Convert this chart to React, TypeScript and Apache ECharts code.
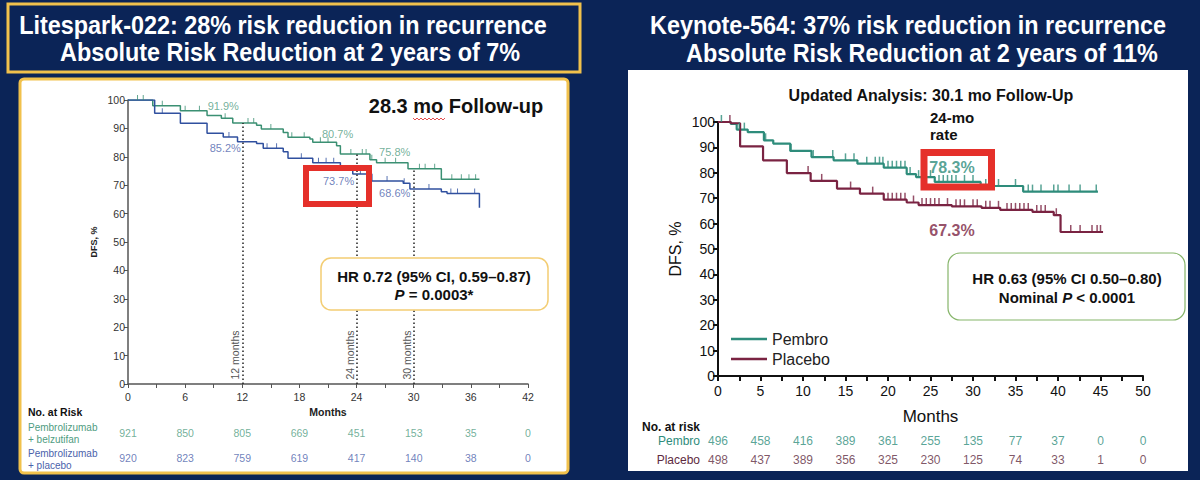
import React, { useEffect, useRef } from "react";
import * as echarts from "echarts";

const FONT = "'Liberation Sans', Arial, Helvetica, sans-serif";

// ---------- Litespark-022 (left) ----------
const BELZ_MONTHS = [0, 2.6, 5.5, 8.3, 9.8, 11, 13.5, 14, 16.3, 16.8, 19.1, 19.4, 21.9, 22.3, 25.4, 26.1, 29.4, 32.9, 36.9];
const BELZ_DFS = [100, 98.0, 96.2, 94.5, 93.6, 91.9, 91.1, 89.8, 88.6, 86.9, 86.3, 85.1, 83.9, 81.0, 79.0, 77.9, 75.8, 72.1, 72.1];
const PLAC1_MONTHS = [0, 2.8, 5.5, 8.3, 10, 11.5, 13.5, 14.2, 16.3, 16.8, 19.4, 22.3, 23.6, 25.6, 28.9, 29.6, 32.9, 33.5, 36.9];
const PLAC1_DFS = [100, 95.3, 91.8, 88.3, 87.0, 85.3, 84.7, 83.0, 81.8, 79.5, 77.9, 75.4, 73.9, 71.5, 70.7, 68.7, 67.7, 67.1, 62.1];
const BELZ_CENSOR = [1, 1.6, 3.6, 6, 7.5, 10.2, 12.6, 13.2, 15, 17.2, 18.5, 20.2, 21, 23.4, 24.6, 25, 25.6, 27, 28.1, 30.6, 31.2, 32.2, 34, 35, 35.8, 36.5];
const PLAC1_CENSOR = [3.6, 10.6, 14.6, 15.6, 18.2, 20, 20.8, 21.6, 24.4, 27.2, 29, 31.6, 33.9, 34.6, 36.4];
const LEFT_LANDMARKS = [12, 24, 30];
const BELZ_RATES = [91.9, 80.7, 75.8];
const PLAC1_RATES = [85.2, 73.7, 68.6];
const LEFT_RISK_MONTHS = [0, 6, 12, 18, 24, 30, 36, 42];
const BELZ_RISK = [921, 850, 805, 669, 451, 153, 35, 0];
const PLAC1_RISK = [920, 823, 759, 619, 417, 140, 38, 0];

// ---------- Keynote-564 (right) ----------
const PEMBRO_MONTHS = [0, 1.5, 2.2, 3.5, 5.4, 6.5, 8.5, 11, 13.6, 16.4, 19.5, 22.2, 23.3, 25.5, 30.9, 35.9, 44.7];
const PEMBRO_DFS = [100, 99.3, 97.0, 96.0, 92.8, 91.5, 88.6, 86.2, 84.9, 83.6, 82.0, 79.5, 78.3, 76.4, 74.8, 72.6, 72.6];
const PLACEBO_MONTHS = [0, 1.5, 2.6, 5.3, 8.1, 10.9, 14, 16.7, 19.5, 22.2, 23.6, 27.5, 31, 33.2, 37, 39.5, 40.3, 45.3];
const PLACEBO_DFS = [100, 99.5, 90.4, 84.9, 79.9, 76.8, 73.8, 71.8, 69.4, 68.3, 67.3, 66.8, 66.2, 65.4, 64.6, 63.3, 56.7, 56.7];
const PEMBRO_CENSOR = [0.4, 2.5, 3.1, 5.6, 8.6, 11.2, 13.5, 15, 16, 17.5, 18.5, 19, 19.4, 20, 20.5, 21, 21.5, 22, 22.6, 23.6, 24.5, 25, 26, 26.5, 27, 27.5, 28, 29, 30, 31.5, 32, 32.5, 33, 35, 36.5, 37, 38, 39.5, 40, 41.3, 42.6, 44.5];
const PLACEBO_CENSOR = [1.4, 10.6, 12.2, 15.6, 18.2, 20, 20.5, 21, 21.5, 22, 23, 24, 24.5, 25, 25.5, 26, 27, 28, 28.5, 29, 30, 30.5, 31.5, 32, 33, 34, 34.5, 35, 35.5, 36, 36.5, 37.5, 38, 38.5, 39.8, 41.5, 42.6, 44, 44.6, 45];
const RIGHT_RATE_MONTH = 24;
const PEMBRO_RATE = 78.3;
const PLACEBO_RATE = 67.3;
const RIGHT_RISK_MONTHS = [0, 5, 10, 15, 20, 25, 30, 35, 40, 45, 50];
const PEMBRO_RISK = [496, 458, 416, 389, 361, 255, 135, 77, 37, 0, 0];
const PLACEBO_RISK = [498, 437, 389, 356, 325, 230, 125, 74, 33, 1, 0];

const NAVY = "#0b2457";
const GOLD = "#f1c14c";
const GREEN = "#3b9073";
const GREEN_TXT = "#4f9c81";
const BLUE = "#30509f";
const BLUE_TXT = "#4b62ab";
const TEAL = "#2e8c7b";
const MAROON = "#7a2342";
const RED = "#e5302a";

function stepAt(months: number[], vals: number[], t: number): number {
  let v = vals[0];
  for (let i = 0; i < months.length; i++) if (months[i] <= t) v = vals[i];
  return v;
}
const pairs = (m: number[], v: number[]) => m.map((x, i) => [x, v[i]]);
const censorPts = (c: number[], m: number[], v: number[]) => c.map((t) => [t, stepAt(m, v, t)]);

export default function App() {
  const ref = useRef<HTMLDivElement>(null);
  useEffect(() => {
    document.body.style.margin = "0";
    const chart = echarts.init(ref.current!, undefined, { renderer: "svg" });

    const stepLine = (name: string, data: number[][], color: string, xi: number, width: number, extra: any = {}) => ({
      type: "line", name, xAxisIndex: xi, yAxisIndex: xi, data, step: "end", showSymbol: false, symbol: "none",
      lineStyle: { color, width }, itemStyle: { color }, z: 3, ...extra,
    });
    const censor = (data: number[][], color: string, xi: number, size: number[]) => ({
      type: "scatter", xAxisIndex: xi, yAxisIndex: xi, data, symbol: "rect", symbolSize: size,
      symbolOffset: [0, "-50%"], itemStyle: { color }, z: 4, silent: true,
    });
    const riskRow = (months: number[], counts: number[], row: number, xi: number, color: string, fs: number) => ({
      type: "scatter", xAxisIndex: xi, yAxisIndex: xi, symbol: "circle", symbolSize: 1,
      itemStyle: { color: "rgba(0,0,0,0)" }, silent: true,
      data: months.map((m, i) => [m, row, counts[i]]),
      label: { show: true, position: "inside", formatter: (p: any) => String(p.value[2]), color, fontSize: fs, fontFamily: FONT },
    });

    const leftLabelOffsets = [[-19, -17], [-19, -21], [-19, -17]];
    const leftLabelOffsetsB = [[-17, 6], [-18, 6], [-19, 4]];
    const leftLabels: any[] = [];
    LEFT_LANDMARKS.forEach((m, i) => {
      leftLabels.push({ value: [m, BELZ_RATES[i]], label: { formatter: BELZ_RATES[i].toFixed(1) + "%", offset: leftLabelOffsets[i], color: GREEN_TXT } });
      leftLabels.push({ value: [m, PLAC1_RATES[i]], label: { formatter: PLAC1_RATES[i].toFixed(1) + "%", offset: leftLabelOffsetsB[i], color: BLUE_TXT } });
    });

    const axisTextL = { color: "#333", fontSize: 10.5, fontFamily: FONT };
    const axisTextR = { color: "#111", fontSize: 14, fontFamily: FONT };

    chart.setOption({
      animation: false,
      backgroundColor: NAVY,
      textStyle: { fontFamily: FONT },
      grid: [
        { left: 128, top: 100, width: 400, height: 284 },
        { left: 718, top: 122, width: 425, height: 254 },
        { left: 128, top: 420, width: 400, height: 50 },
        { left: 718, top: 431, width: 425, height: 38 },
      ],
      legend: {
        data: ["Pembro", "Placebo"], orient: "vertical", left: 731, top: 331, icon: "rect",
        itemWidth: 36, itemHeight: 2.5, itemGap: 4, padding: 0, selectedMode: false,
        textStyle: { fontSize: 16, color: "#222", fontFamily: FONT },
      },
      xAxis: [
        {
          gridIndex: 0, type: "value", min: 0, max: 42, interval: 6,
          axisLine: { lineStyle: { color: "#555", width: 1.5 } },
          axisTick: { show: true, length: 4, lineStyle: { color: "#555" } },
          minorTick: { show: true, splitNumber: 2, length: 4, lineStyle: { color: "#555" } },
          splitLine: { show: false }, axisLabel: { ...axisTextL, margin: 7 },
          name: "Months", nameLocation: "middle", nameGap: 22,
          nameTextStyle: { fontWeight: "bold", fontSize: 10.5, color: "#222", fontFamily: FONT },
        },
        {
          gridIndex: 1, type: "value", min: 0, max: 50, interval: 5,
          axisLine: { lineStyle: { color: "#111", width: 2 } },
          axisTick: { show: true, length: 5, lineStyle: { color: "#111", width: 2 } },
          minorTick: { show: true, splitNumber: 2, length: 5, lineStyle: { color: "#111", width: 2 } },
          splitLine: { show: false }, axisLabel: { ...axisTextR, margin: 8 },
          name: "Months", nameLocation: "middle", nameGap: 32,
          nameTextStyle: { fontSize: 17, color: "#111", fontFamily: FONT },
        },
        { gridIndex: 2, type: "value", min: 0, max: 42, show: false },
        { gridIndex: 3, type: "value", min: 0, max: 50, show: false },
      ],
      yAxis: [
        {
          gridIndex: 0, type: "value", min: 0, max: 100, interval: 10,
          axisLine: { show: true, lineStyle: { color: "#555", width: 1.5 } },
          axisTick: { show: true, length: 4, lineStyle: { color: "#555" } },
          splitLine: { show: false }, axisLabel: { ...axisTextL, margin: 3 },
          name: "DFS, %", nameLocation: "middle", nameGap: 30,
          nameTextStyle: { fontWeight: "bold", fontSize: 9, color: "#222", fontFamily: FONT },
        },
        {
          gridIndex: 1, type: "value", min: 0, max: 100, interval: 10,
          axisLine: { show: true, lineStyle: { color: "#111", width: 2 } },
          axisTick: { show: true, length: 5, lineStyle: { color: "#111", width: 2 } },
          splitLine: { show: false }, axisLabel: { ...axisTextR, margin: 3 },
          name: "DFS, %", nameLocation: "middle", nameGap: 35,
          nameTextStyle: { fontSize: 16, color: "#111", fontFamily: FONT },
        },
        { gridIndex: 2, type: "value", min: -0.5, max: 1.5, inverse: true, show: false },
        { gridIndex: 3, type: "value", min: -0.5, max: 1.5, inverse: true, show: false },
      ],
      series: [
        stepLine("Pembrolizumab + belzutifan", pairs(BELZ_MONTHS, BELZ_DFS), GREEN, 0, 1.5, {
          markLine: {
            symbol: "none", silent: true, label: { show: false },
            lineStyle: { type: [1.5, 2.5], color: "#222", width: 1.5 },
            data: LEFT_LANDMARKS.map((m) => [{ coord: [m, 0] }, { coord: [m, stepAt(BELZ_MONTHS, BELZ_DFS, m)] }]),
          },
        }),
        stepLine("Pembrolizumab + placebo", pairs(PLAC1_MONTHS, PLAC1_DFS), BLUE, 0, 1.5),
        censor(censorPts(BELZ_CENSOR, BELZ_MONTHS, BELZ_DFS), GREEN, 0, [1, 5]),
        censor(censorPts(PLAC1_CENSOR, PLAC1_MONTHS, PLAC1_DFS), BLUE, 0, [1, 5]),
        {
          type: "scatter", xAxisIndex: 0, yAxisIndex: 0, symbolSize: 1, itemStyle: { color: "rgba(0,0,0,0)" }, silent: true,
          data: leftLabels, z: 6,
          label: { show: true, position: "inside", fontSize: 11, fontFamily: FONT },
        },
        stepLine("Pembro", pairs(PEMBRO_MONTHS, PEMBRO_DFS), TEAL, 1, 2.2),
        stepLine("Placebo", pairs(PLACEBO_MONTHS, PLACEBO_DFS), MAROON, 1, 2.2),
        censor(censorPts(PEMBRO_CENSOR, PEMBRO_MONTHS, PEMBRO_DFS), TEAL, 1, [1.5, 7]),
        censor(censorPts(PLACEBO_CENSOR, PLACEBO_MONTHS, PLACEBO_DFS), MAROON, 1, [1.5, 7]),
        {
          type: "scatter", xAxisIndex: 1, yAxisIndex: 1, symbolSize: 1, itemStyle: { color: "rgba(0,0,0,0)" }, silent: true, z: 6,
          data: [
            { value: [RIGHT_RATE_MONTH, PEMBRO_RATE], label: { formatter: PEMBRO_RATE.toFixed(1) + "%", offset: [30, -10], color: TEAL } },
            { value: [RIGHT_RATE_MONTH, PLACEBO_RATE], label: { formatter: PLACEBO_RATE.toFixed(1) + "%", offset: [30, 25], color: MAROON } },
          ],
          label: { show: true, position: "inside", fontSize: 16, fontWeight: "bold", fontFamily: FONT },
        },
        riskRow(LEFT_RISK_MONTHS, BELZ_RISK, 0, 2, GREEN_TXT, 10.5),
        riskRow(LEFT_RISK_MONTHS, PLAC1_RISK, 1, 2, BLUE_TXT, 10.5),
        riskRow(RIGHT_RISK_MONTHS, PEMBRO_RISK, 0, 3, TEAL, 12),
        riskRow(RIGHT_RISK_MONTHS, PLACEBO_RISK, 1, 3, "#5e2a3e", 12),
      ],
    });

    const px = (grid: number, p: number[]) => chart.convertToPixel({ xAxisIndex: grid, yAxisIndex: grid }, p) as number[];

    const landmarkTexts = LEFT_LANDMARKS.map((m) => {
      const p = px(0, [m, 0]);
      return {
        type: "text", x: p[0] - 7, y: p[1] - 29, rotation: Math.PI / 2, z: 20,
        style: { text: m + " months", fill: "#555", fontSize: 10.5, fontFamily: FONT, align: "center", verticalAlign: "middle" },
      };
    });

    const txt = (text: string, x: number, y: number, o: any = {}, el: any = {}) => ({
      type: "text", x, y, z: 20, ...el,
      style: { text, fontFamily: FONT, align: "center", verticalAlign: "middle", fill: "#111", ...o },
    });

    const elements: any[] = [
      // panels
      { type: "rect", z: -5, shape: { x: 8, y: 4, width: 572, height: 68 }, style: { fill: NAVY, stroke: GOLD, lineWidth: 3 } },
      { type: "rect", z: -5, shape: { x: 20, y: 79, width: 548, height: 394, r: 4 }, style: { fill: "#ffffff", stroke: GOLD, lineWidth: 3 } },
      { type: "rect", z: -5, shape: { x: 628, y: 70, width: 560, height: 401 }, style: { fill: "#ffffff" } },
      // titles
      txt("Litespark-022: 28% risk reduction in recurrence", 283, 25, { fill: "#fff", fontSize: 26, fontWeight: "bold" }, { scaleX: 0.9 }),
      txt("Absolute Risk Reduction at 2 years of 7%", 290, 52, { fill: "#fff", fontSize: 26, fontWeight: "bold" }, { scaleX: 0.9 }),
      txt("Keynote-564: 37% risk reduction in recurrence", 908, 25, { fill: "#fff", fontSize: 26, fontWeight: "bold" }, { scaleX: 0.9 }),
      txt("Absolute Risk Reduction at 2 years of 11%", 922, 53, { fill: "#fff", fontSize: 26, fontWeight: "bold" }, { scaleX: 0.9 }),
      // left annotations
      txt("28.3 mo Follow-up", 456, 106, { fontSize: 20, fontWeight: "bold" }),
      {
        type: "polyline", z: 21, shape: { points: [[413, 118], [415, 120], [417, 118], [419, 120], [421, 118], [423, 120], [425, 118], [427, 120], [429, 118], [431, 120], [433, 118], [435, 120], [437, 118], [439, 120], [441, 118], [443, 120], [445, 118]] },
        style: { stroke: "#d22", lineWidth: 0.8, fill: "none" },
      },
      { type: "rect", z: 20, shape: { x: 306, y: 168, width: 63, height: 36 }, style: { fill: "none", stroke: RED, lineWidth: 6 } },
      { type: "rect", z: 19, shape: { x: 321, y: 258, width: 227, height: 52, r: 10 }, style: { fill: "#fff", stroke: "#f3cd73", lineWidth: 1.5 } },
      {
        type: "text", x: 434, y: 285, z: 20,
        style: {
          text: "HR 0.72 (95% CI, 0.59–0.87)\n{i|P} = 0.0003*", align: "center", verticalAlign: "middle",
          fontFamily: FONT, fontSize: 15, fontWeight: "bold", fill: "#111", lineHeight: 18,
          rich: { i: { fontStyle: "italic", fontWeight: "bold", fontSize: 15, fontFamily: FONT, fill: "#111" } },
        },
      },
      txt("No. at Risk", 28, 412, { fontSize: 10.5, fontWeight: "bold", align: "left" }),
      txt("Pembrolizumab", 28, 427, { fontSize: 10, fill: GREEN_TXT, align: "left" }),
      txt("+ belzutifan", 28, 439, { fontSize: 10, fill: GREEN_TXT, align: "left" }),
      txt("Pembrolizumab", 28, 453, { fontSize: 10, fill: BLUE_TXT, align: "left" }),
      txt("+ placebo", 28, 465, { fontSize: 10, fill: BLUE_TXT, align: "left" }),
      ...landmarkTexts,
      // right annotations
      txt("Updated Analysis: 30.1 mo Follow-Up", 931, 95, { fontSize: 16, fontWeight: "bold" }),
      txt("24-mo", 930, 117, { fontSize: 15, fontWeight: "bold", align: "left" }),
      txt("rate", 930, 134, { fontSize: 15, fontWeight: "bold", align: "left" }),
      { type: "rect", z: 20, shape: { x: 924, y: 152.5, width: 67.5, height: 34.5 }, style: { fill: "none", stroke: RED, lineWidth: 7 } },
      { type: "rect", z: 19, shape: { x: 948, y: 253, width: 237, height: 67, r: 12 }, style: { fill: "#fff", stroke: "#86b56a", lineWidth: 1.2 } },
      {
        type: "text", x: 1067, y: 288, z: 20,
        style: {
          text: "HR 0.63 (95% CI 0.50–0.80)\nNominal {i|P} < 0.0001", align: "center", verticalAlign: "middle",
          fontFamily: FONT, fontSize: 15, fontWeight: "bold", fill: "#111", lineHeight: 19,
          rich: { i: { fontStyle: "italic", fontWeight: "bold", fontSize: 15, fontFamily: FONT, fill: "#111" } },
        },
      },
      txt("No. at risk", 642, 427, { fontSize: 12, fontWeight: "bold", align: "left" }),
      txt("Pembro", 700, 441, { fontSize: 12, fill: TEAL, align: "right" }),
      txt("Placebo", 700, 460, { fontSize: 12, fill: "#5e2a3e", align: "right" }),
    ];

    chart.setOption({ graphic: { elements } });

    return () => chart.dispose();
  }, []);
  return <div ref={ref} style={{ width: 1200, height: 480 }} />;
}
